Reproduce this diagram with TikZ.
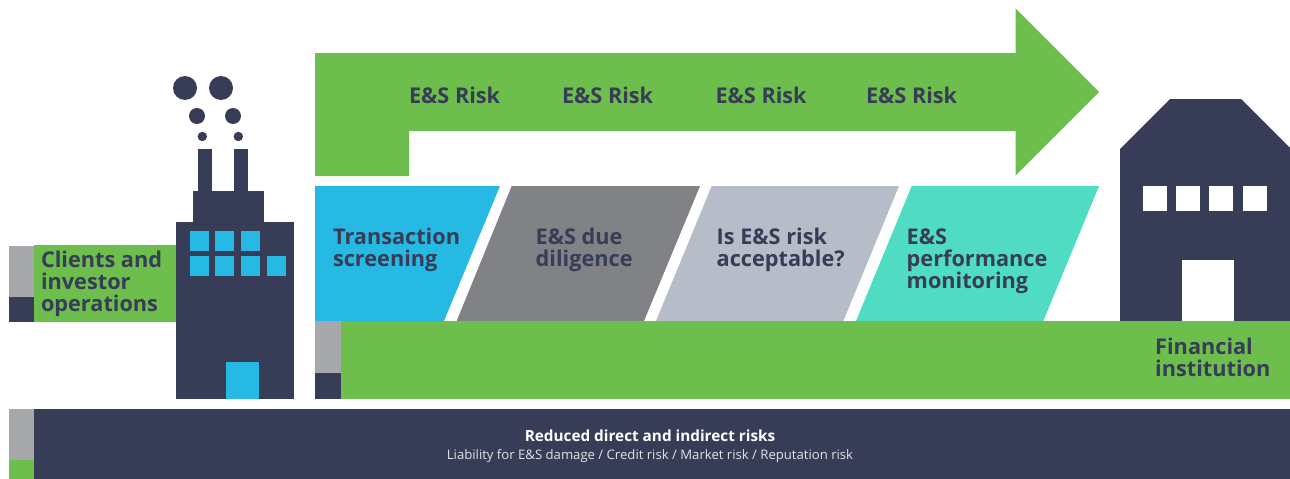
\documentclass[tikz,border=0pt]{standalone}
\usepackage{fontspec}
\setmainfont{Open Sans}
\definecolor{navy}{HTML}{373D56}
\definecolor{leaf}{HTML}{6DBE4D}
\definecolor{sky}{HTML}{25B9E3}
\definecolor{slate}{HTML}{818285}
\definecolor{mist}{HTML}{B7BCC9}
\definecolor{aqua}{HTML}{50DCC2}
\definecolor{ash}{HTML}{A7A8AB}
\tikzset{
  lbl/.style={anchor=base west,inner sep=0pt,outer sep=0pt,text=navy,align=left,
    font=\fontsize{21.7}{22}\selectfont\bfseries},
  foot/.style={anchor=base,inner sep=0pt,outer sep=0pt,text=white}
}
\begin{document}
\begin{tikzpicture}[x=1pt,y=-1pt]
\useasboundingbox (0,0) rectangle (1290,479);
% left label block
\fill[ash] (9,246) rectangle (34,297);
\fill[navy] (9,297) rectangle (34,322);
\fill[leaf] (34,245) rectangle (176,322);
% factory
\fill[navy] (176,222) rectangle (294,399);
\fill[navy] (193,191) rectangle (264,222);
\fill[navy] (198,149) rectangle (212,191);
\fill[navy] (234,149) rectangle (248,191);
\fill[navy] (185,88) circle (12);
\fill[navy] (221,88) circle (12);
\fill[navy] (197,116) circle (8);
\fill[navy] (233,116) circle (8);
\fill[navy] (202.3,136.5) circle (4.7);
\fill[navy] (238.3,136.5) circle (4.7);
\foreach \xa in {190,215,241} \fill[sky] (\xa,231) rectangle ++(19,20);
\foreach \xa in {190,215,241,267} \fill[sky] (\xa,256) rectangle ++(19,20);
\fill[sky] (226,362) rectangle (259,399);
% arrow
\fill[leaf] (315,53) -- (1015.7,53) -- (1015.7,8.7) -- (1099,92) -- (1015.7,175.3)
  -- (1015.7,131) -- (409,131) -- (409,176) -- (315,176) -- cycle;
% process shapes
\fill[sky] (315,186) -- (500,186) -- (444,321) -- (315,321) -- cycle;
\fill[slate] (511.7,186) -- (700,186) -- (644,321) -- (456.7,321) -- cycle;
\fill[mist] (711.7,186) -- (899,186) -- (843.3,321) -- (656,321) -- cycle;
\fill[aqua] (911.7,186) -- (1099,186) -- (1043.3,321) -- (856,321) -- cycle;
% house
\fill[navy] (1120,149) -- (1170,99) -- (1241,99) -- (1290,148) -- (1290,322) -- (1120,322) -- cycle;
\foreach \xa in {1143,1176,1209,1243} \fill[white] (\xa,186) rectangle ++(24,25);
\fill[white] (1182,260) rectangle (1234,322);
% green bar
\fill[ash] (315,321) rectangle (341,373);
\fill[navy] (315,373) rectangle (341,399);
\fill[leaf] (341,321) rectangle (1290,399);
% bottom bar
\fill[ash] (9,409) rectangle (34,460);
\fill[leaf] (9,460) rectangle (34,479);
\fill[navy] (34,409) rectangle (1290,479);
% texts
\node[lbl] (clients) at (41,311.5) {Clients and\\investor\\operations};
\node[lbl] (risk1) at (409,103) {E\&S Risk};
\node[lbl] (risk2) at (562,103) {E\&S Risk};
\node[lbl] (risk3) at (715.5,103) {E\&S Risk};
\node[lbl] (risk4) at (866,103) {E\&S Risk};
\node[lbl] (screen) at (333,266) {Transaction\\screening};
\node[lbl] (due) at (535.7,266) {E\&S due\\diligence};
\node[lbl] (accept) at (716.7,266) {Is E\&S risk\\acceptable?};
\node[lbl] (perf) at (906.7,288) {E\&S\\performance\\monitoring};
\node[lbl] (fin) at (1155.2,376) {Financial\\institution};
\node[foot,font=\fontsize{15.3}{16}\selectfont\bfseries] (reduced) at (650,441.5) {Reduced direct and indirect risks};
\node[foot,font=\fontsize{13.13}{16}\selectfont,text=white!85!navy] (liab) at (650,459) {Liability for E\&S damage / Credit risk / Market risk / Reputation risk};
\end{tikzpicture}
\end{document}
